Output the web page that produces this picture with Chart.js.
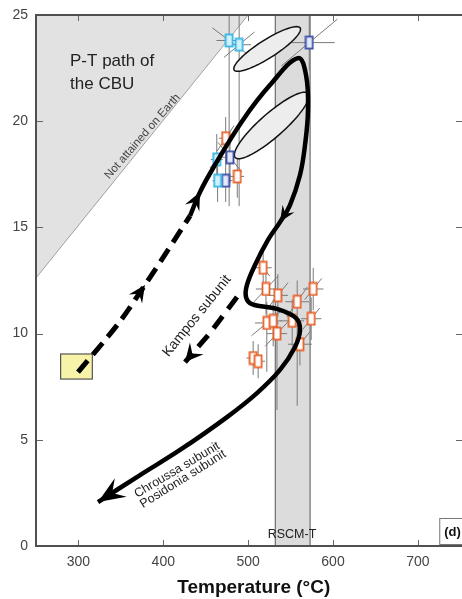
<!DOCTYPE html>
<html>
<head>
<meta charset="utf-8">
<script src="https://cdn.jsdelivr.net/npm/chart.js@4.4.1/dist/chart.umd.min.js"></script>
<style>
  html, body { margin: 0; padding: 0; background: #fff; }
  canvas { display: block; }
</style>
</head>
<body>
<canvas id="ptChart" width="462" height="599"></canvas>
<script>
// axes
const tempTicks = [300, 400, 500, 600, 700];
const presTicks = [0, 5, 10, 15, 20, 25];

// P-T estimates (T in °C, P in kbar)
const cyanT = [477.6, 489.4, 463, 464];
const cyanP = [23.8, 23.6, 18.2, 17.2];
const cyanErrT = [15, 14, 7, 6];
const cyanErrDown = [7.8, 7.6, 1.2, 1.0];
const cyanErrUp = [1.2, 1.4, 1.2, 1.0];
const cyanTiltT = [20, 18, 8, 0];
const cyanTiltP = [-0.6, 0.6, 0.4, 0];

const blueT = [572, 478.6, 473.5];
const blueP = [23.7, 18.3, 17.2];
const blueErrT = [30, 9, 8];
const blueErrDown = [1.3, 1.2, 1.0];
const blueErrUp = [1.3, 1.2, 1.0];
const blueTiltT = [33, 14, 0];
const blueTiltP = [1.1, -0.7, 0];

const orangeT = [473.5, 487.2, 517.7, 521, 535, 557.8, 576.7, 522, 529.5, 534, 551.9, 574.3, 561, 505.9, 511.8];
const orangeP = [19.2, 17.4, 13.1, 12.1, 11.8, 11.5, 12.1, 10.5, 10.6, 10.0, 10.6, 10.7, 9.5, 8.85, 8.7];
const orangeErrT = [8, 8, 10, 12, 12, 14, 12, 14, 10, 12, 14, 12, 14, 8, 8];
const orangeErrDown = [1.0, 1.0, 1.0, 1.2, 1.0, 4.9, 1.0, 2.3, 1.2, 3.6, 1.2, 1.0, 1.0, 0.8, 0.8];
const orangeErrUp = [1.0, 1.0, 1.0, 1.0, 1.0, 1.0, 1.0, 1.0, 1.0, 1.0, 1.0, 1.0, 1.0, 0.8, 0.8];
const orangeTiltT = [10, 0, 8, 14, 12, 12, 10, 18, 0, 14, 12, 10, 12, 0, 0];
const orangeTiltP = [0.6, 0, -0.4, 0.6, 0.6, 0.7, 0.5, 0.6, 0, 0.6, -0.5, 0.5, 0.6, 0, 0];

// P-T paths
const cbuPathT = [431.5, 443.3, 460.9, 493.9, 525.7, 558.7, 568.2, 570.5, 567, 561.1, 549.3, 537.5, 523.4, 508.1, 498.6, 497.5, 504.5, 534, 556.4, 561.1, 555.2, 537.5, 510.4, 475.1, 419.7, 372.6, 323.1];
const cbuPathP = [15.54, 16.67, 17.94, 20.06, 21.7, 22.97, 22.17, 20.53, 18.88, 17.47, 16.05, 15.25, 14.41, 13.23, 12.29, 11.72, 11.39, 11.16, 10.73, 10.17, 9.37, 8.29, 7.2, 6.07, 4.52, 3.34, 2.07];
const progT = [299.5, 346.6, 378.4, 405.6, 431.5];
const progP = [8.19, 10.45, 12.29, 13.94, 15.54];
const kamposT = [486.9, 455.1, 425.6];
const kamposP = [11.72, 10.03, 8.66];

// uncertainty ellipses: centre, major half-axis, minor half-axis
const ellCenterT = [522.4, 527.7];
const ellCenterP = [23.4, 19.8];
const ellMajorT = [38.9, 43];
const ellMajorP = [0.99, 1.51];
const ellMinorT = [5.7, 9.3];
const ellMinorP = [-0.36, -0.42];

// shaded fields
const notEarthT = [250, 250, 500];
const notEarthP = [12.62, 25, 25];
const rscmT = [532, 573];
const startBoxT = [279, 316.4];
const startBoxP = [7.86, 9.04];

const pts = (xs, ys) => xs.map((x, i) => ({ x: x, y: ys[i] }));

function boxMarker(stroke, fill) {
    const c = document.createElement('canvas');
    c.width = 10; c.height = 15;
    const g = c.getContext('2d');
    g.fillStyle = fill;
    g.fillRect(1, 1, 8, 13);
    g.strokeStyle = stroke;
    g.lineWidth = 1.8;
    g.strokeRect(1.5, 1.5, 7, 12);
    return c;
}

const groups = [
    { T: cyanT, P: cyanP, eT: cyanErrT, eD: cyanErrDown, eU: cyanErrUp, kT: cyanTiltT, kP: cyanTiltP },
    { T: blueT, P: blueP, eT: blueErrT, eD: blueErrDown, eU: blueErrUp, kT: blueTiltT, kP: blueTiltP },
    { T: orangeT, P: orangeP, eT: orangeErrT, eD: orangeErrDown, eU: orangeErrUp, kT: orangeTiltT, kP: orangeTiltP }
];

// background: shaded fields, error bars, ellipses
const backdrop = {
    id: 'backdrop',
    beforeDatasetsDraw(chart) {
        const { ctx, chartArea: a, scales: { x, y } } = chart;
        const px = t => x.getPixelForValue(t), py = p => y.getPixelForValue(p);
        ctx.save();
        ctx.beginPath();
        ctx.rect(a.left, a.top, a.right - a.left, a.bottom - a.top);
        ctx.clip();

        // not attained on Earth
        ctx.beginPath();
        notEarthT.forEach((t, i) => {
            i ? ctx.lineTo(px(t), py(notEarthP[i])) : ctx.moveTo(px(t), py(notEarthP[i]));
        });
        ctx.closePath();
        ctx.fillStyle = '#e2e2e2';
        ctx.fill();
        ctx.beginPath();
        ctx.moveTo(px(notEarthT[0]), py(notEarthP[0]));
        ctx.lineTo(px(notEarthT[2]), py(notEarthP[2]));
        ctx.strokeStyle = '#a0a0a0';
        ctx.lineWidth = 1;
        ctx.stroke();

        // RSCM-T band
        const b0 = px(rscmT[0]), b1 = px(rscmT[1]);
        ctx.fillStyle = '#dcdcdc';
        ctx.fillRect(b0, a.top, b1 - b0, a.bottom - a.top);
        ctx.strokeStyle = '#6e6e6e';
        ctx.lineWidth = 1.2;
        [b0, b1].forEach(bx => {
            ctx.beginPath(); ctx.moveTo(bx, a.top); ctx.lineTo(bx, a.bottom); ctx.stroke();
        });

        // starting box
        const sx0 = px(startBoxT[0]), sx1 = px(startBoxT[1]);
        const sy0 = py(startBoxP[1]), sy1 = py(startBoxP[0]);
        ctx.fillStyle = '#f7f3a8';
        ctx.fillRect(sx0, sy0, sx1 - sx0, sy1 - sy0);
        ctx.strokeStyle = '#555';
        ctx.lineWidth = 1.2;
        ctx.strokeRect(sx0, sy0, sx1 - sx0, sy1 - sy0);

        // error bars
        ctx.strokeStyle = '#7a7a7a';
        ctx.lineWidth = 1;
        groups.forEach(g => {
            g.T.forEach((t, i) => {
                const p = g.P[i];
                ctx.beginPath();
                ctx.moveTo(px(t - g.eT[i]), py(p));
                ctx.lineTo(px(t + g.eT[i]), py(p));
                ctx.moveTo(px(t), py(p - g.eD[i]));
                ctx.lineTo(px(t), py(p + g.eU[i]));
                if (g.kT[i]) {
                    ctx.moveTo(px(t - g.kT[i]), py(p - g.kP[i]));
                    ctx.lineTo(px(t + g.kT[i]), py(p + g.kP[i]));
                }
                ctx.stroke();
            });
        });

        // ellipses
        ellCenterT.forEach((ct, k) => {
            ctx.beginPath();
            for (let s = 0; s <= 72; s++) {
                const th = s / 72 * Math.PI * 2;
                const t = ct + Math.cos(th) * ellMajorT[k] + Math.sin(th) * ellMinorT[k];
                const p = ellCenterP[k] + Math.cos(th) * ellMajorP[k] + Math.sin(th) * ellMinorP[k];
                s ? ctx.lineTo(px(t), py(p)) : ctx.moveTo(px(t), py(p));
            }
            ctx.closePath();
            ctx.fillStyle = '#ededed';
            ctx.fill();
            ctx.strokeStyle = '#111';
            ctx.lineWidth = 1.5;
            ctx.stroke();
        });
        ctx.restore();
    }
};

function arrowHead(ctx, tx, ty, dx, dy, L, W, notch) {
    const n = Math.hypot(dx, dy), ux = dx / n, uy = dy / n, qx = -uy, qy = ux;
    ctx.beginPath();
    ctx.moveTo(tx, ty);
    ctx.lineTo(tx - ux * L + qx * W, ty - uy * L + qy * W);
    ctx.lineTo(tx - ux * L * notch, ty - uy * L * notch);
    ctx.lineTo(tx - ux * L - qx * W, ty - uy * L - qy * W);
    ctx.closePath();
    ctx.fill();
}

// arrows, labels, frame
const overlay = {
    id: 'overlay',
    afterDraw(chart) {
        const { ctx, chartArea: a, scales: { x, y } } = chart;
        const px = t => x.getPixelForValue(t), py = p => y.getPixelForValue(p);
        ctx.save();

        // arrowheads
        ctx.fillStyle = '#000';
        const arrows = [
            { T: cbuPathT, P: cbuPathP, i: 1, L: 18, W: 8 },
            { T: cbuPathT, P: cbuPathP, i: 11, L: 16, W: 7 },
            { T: cbuPathT, P: cbuPathP, i: cbuPathT.length - 1, L: 27, W: 11 },
            { T: progT, P: progP, i: 2, L: 17, W: 8 },
            { T: kamposT, P: kamposP, i: kamposT.length - 1, L: 18, W: 9 }
        ];
        arrows.forEach(ar => {
            const n = ar.T.length, i = ar.i;
            const i0 = Math.max(0, i - 1), i1 = Math.min(n - 1, i + 1);
            const dx = px(ar.T[i1]) - px(ar.T[i0]), dy = py(ar.P[i1]) - py(ar.P[i0]);
            arrowHead(ctx, px(ar.T[i]), py(ar.P[i]), dx, dy, ar.L, ar.W, 0.62);
        });

        // labels
        const labels = [
            { text: 'P-T path of', T: 290.1, P: 22.6, rot: 0, font: '17px "Liberation Sans"', color: '#222', align: 'left', base: 'alphabetic' },
            { text: 'the CBU', T: 290.1, P: 21.52, rot: 0, font: '17px "Liberation Sans"', color: '#222', align: 'left', base: 'alphabetic' },
            { text: 'Not attained on Earth', T: 375.5, P: 19.28, rot: -49, font: '11.5px "Liberation Sans"', color: '#444', align: 'center', base: 'middle' },
            { text: 'Kampos subunit', T: 439.7, P: 10.83, rot: -51, font: '14px "Liberation Sans"', color: '#222', align: 'center', base: 'middle' },
            { text: 'Chroussa subunit', T: 416.2, P: 3.58, rot: -31, font: '12.5px "Liberation Sans"', color: '#222', align: 'center', base: 'middle' },
            { text: 'Posidonia subunit', T: 423.2, P: 3.15, rot: -32, font: '12.5px "Liberation Sans"', color: '#222', align: 'center', base: 'middle' },
            { text: 'RSCM-T', T: 551.7, P: 0.52, rot: 0, font: '12.5px "Liberation Sans"', color: '#222', align: 'center', base: 'middle' }
        ];
        labels.forEach(l => {
            ctx.save();
            ctx.translate(px(l.T), py(l.P));
            ctx.rotate(l.rot * Math.PI / 180);
            ctx.font = l.font;
            ctx.fillStyle = l.color;
            ctx.textAlign = l.align;
            ctx.textBaseline = l.base;
            ctx.fillText(l.text, 0, 0);
            ctx.restore();
        });

        // panel tag
        const dx0 = px(725.2), dy0 = py(1.32);
        ctx.fillStyle = '#fff';
        ctx.fillRect(dx0, dy0, a.right - dx0 + 4, a.bottom - dy0 - 1);
        ctx.strokeStyle = '#777';
        ctx.lineWidth = 1;
        ctx.strokeRect(dx0 + 0.5, dy0 + 0.5, a.right - dx0 + 4, a.bottom - dy0 - 2);
        ctx.fillStyle = '#111';
        ctx.font = 'bold 13px "Liberation Sans"';
        ctx.textAlign = 'left';
        ctx.textBaseline = 'middle';
        ctx.fillText('(d)', dx0 + 5, (dy0 + a.bottom) / 2);

        // inner ticks
        ctx.strokeStyle = '#666';
        ctx.lineWidth = 1;
        tempTicks.forEach(t => {
            const tx = Math.round(px(t)) + 0.5;
            ctx.beginPath();
            ctx.moveTo(tx, a.bottom); ctx.lineTo(tx, a.bottom - 6);
            ctx.moveTo(tx, a.top); ctx.lineTo(tx, a.top + 6);
            ctx.stroke();
        });
        presTicks.forEach(p => {
            const ty = Math.round(py(p)) + 0.5;
            ctx.beginPath();
            ctx.moveTo(a.left, ty); ctx.lineTo(a.left + 7, ty);
            ctx.moveTo(a.right, ty); ctx.lineTo(a.right - 6, ty);
            ctx.stroke();
        });

        // frame
        ctx.strokeStyle = '#505050';
        ctx.lineWidth = 2;
        ctx.beginPath();
        ctx.moveTo(a.right + 4, a.top);
        ctx.lineTo(a.left, a.top);
        ctx.lineTo(a.left, a.bottom);
        ctx.lineTo(a.right + 4, a.bottom);
        ctx.stroke();
        ctx.restore();
    }
};

const lineStyle = { showLine: true, pointRadius: 0, borderColor: '#000', backgroundColor: '#000', order: 0 };

new Chart(document.getElementById('ptChart'), {
    type: 'scatter',
    data: {
        datasets: [
            Object.assign({ label: 'CBU path', data: pts(cbuPathT, cbuPathP), borderWidth: 4.5, tension: 0.4, borderCapStyle: 'butt' }, lineStyle),
            Object.assign({ label: 'Prograde', data: pts(progT, progP), borderWidth: 5, tension: 0.3, borderDash: [15, 8], borderCapStyle: 'butt' }, lineStyle),
            Object.assign({ label: 'Kampos', data: pts(kamposT, kamposP), borderWidth: 5, tension: 0, borderDash: [15, 9], borderCapStyle: 'butt' }, lineStyle),
            { label: 'cyan', data: pts(cyanT, cyanP), pointStyle: boxMarker('#36b6e6', '#d2f1fb'), pointRadius: 7, order: 1 },
            { label: 'blue', data: pts(blueT, blueP), pointStyle: boxMarker('#3a4ea6', '#e6e9f8'), pointRadius: 7, order: 1 },
            { label: 'orange', data: pts(orangeT, orangeP), pointStyle: boxMarker('#e8622a', '#ffffff'), pointRadius: 7, order: 1 }
        ]
    },
    options: {
        responsive: false,
        devicePixelRatio: 1,
        animation: false,
        layout: { autoPadding: false, padding: { top: 15, right: 0, left: 0, bottom: 0 } },
        plugins: { legend: { display: false }, tooltip: { enabled: false } },
        scales: {
            x: {
                type: 'linear',
                min: 250,
                max: 752,
                afterBuildTicks: s => { s.ticks = tempTicks.map(v => ({ value: v })); },
                afterFit: s => { s.height = 53; s.paddingLeft = 0; s.paddingRight = 0; },
                grid: { display: false, drawTicks: false },
                border: { display: false },
                ticks: { padding: 8, color: '#444', font: { family: 'Liberation Sans', size: 14 } },
                title: { display: true, text: '\u2002Temperature (°C)', color: '#111', padding: { top: 0, bottom: 0 }, font: { family: 'Liberation Sans', size: 19, weight: 'bold' } }
            },
            y: {
                min: 0,
                max: 25,
                afterBuildTicks: s => { s.ticks = presTicks.map(v => ({ value: v })); },
                afterFit: s => { s.width = 36; s.paddingTop = 0; s.paddingBottom = 0; },
                grid: { display: false, drawTicks: false },
                border: { display: false },
                ticks: { padding: 8, color: '#444', font: { family: 'Liberation Sans', size: 14 } }
            }
        }
    },
    plugins: [backdrop, overlay]
});
</script>
</body>
</html>
